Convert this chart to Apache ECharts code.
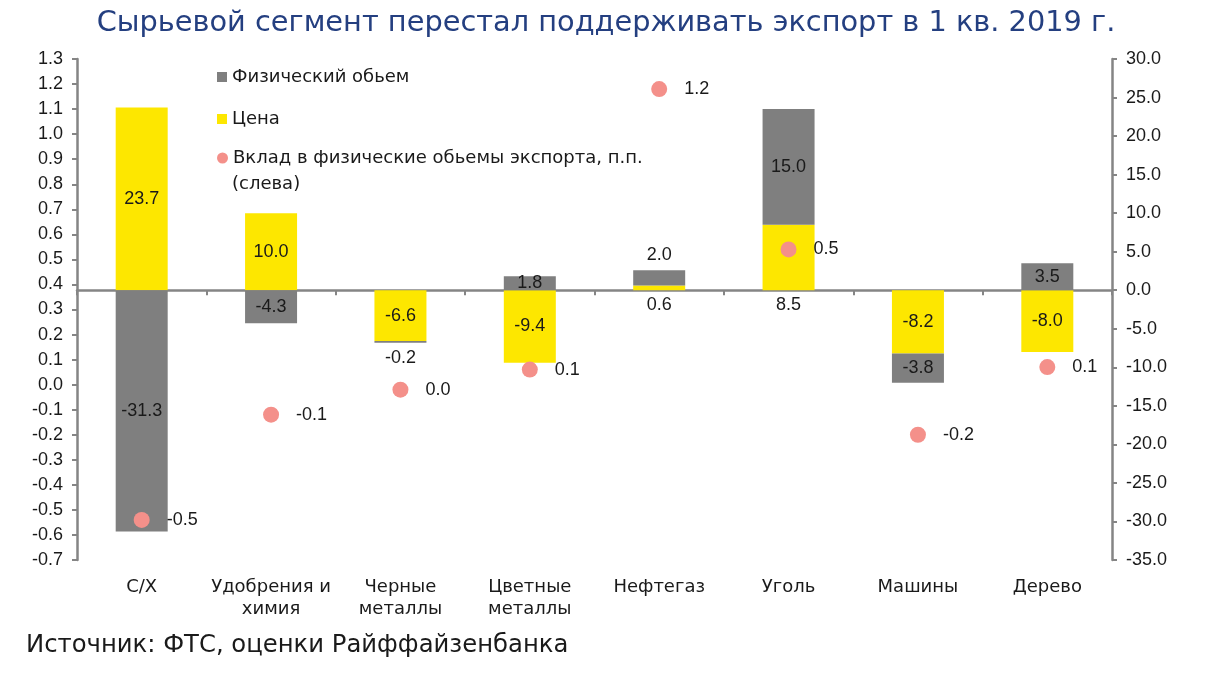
<!DOCTYPE html>
<html><head><meta charset="utf-8">
<script src="https://cdn.jsdelivr.net/npm/echarts@6/dist/echarts.min.js"></script>
<style>html,body{margin:0;padding:0;background:#fff}#c{width:1212px;height:683px}</style>
</head><body><div id="c"></div>
<script>
// ---- data ----
const categories = ['С/Х', 'Удобрения и\nхимия', 'Черные\nметаллы', 'Цветные\nметаллы', 'Нефтегаз', 'Уголь', 'Машины', 'Дерево'];
const price = [23.7, 10.0, -6.6, -9.4, 0.6, 8.5, -8.2, -8.0];          // Цена (right axis)
const volume = [-31.3, -4.3, -0.2, 1.8, 2.0, 15.0, -3.8, 3.5];        // Физический обьем (right axis)
const contribution = [-0.54, -0.12, -0.02, 0.06, 1.18, 0.54, -0.20, 0.07]; // Вклад, п.п. (left axis)
const nameVolume = 'Физический обьем';
const namePrice = 'Цена';
const nameContrib = 'Вклад в физические обьемы экспорта, п.п.';
const nameContribNote = '(слева)';
const titleText = 'Сырьевой сегмент перестал поддерживать экспорт в 1 кв. 2019 г.';
const sourceText = 'Источник: ФТС, оценки Райффайзенбанка';

// ---- styles ----
const priceLabelPos = ['inside', 'inside', 'inside', 'inside', 'bottom', 'bottom', 'inside', 'inside'];
const volumeLabelPos = ['inside', 'inside', 'bottom', 'inside', 'top', 'inside', 'inside', 'inside'];
const AX = '#858585';
const numFont = 'Liberation Sans, Arial, sans-serif';
const txtFont = 'DejaVu Sans, sans-serif';
const fmt1 = v => { let s = (Math.round(v * 10) / 10).toFixed(1); return s === '-0.0' ? '0.0' : s; };

const chart = echarts.init(document.getElementById('c'));
const barLabel = { show: true, color: '#1a1a1a', fontFamily: numFont, fontSize: 18, distance: 6, formatter: p => fmt1(p.value) };
const legendText = { fontFamily: txtFont, fontSize: 18, color: '#1a1a1a' };

chart.setOption({
  animation: false,
  title: [
    { text: titleText, left: 'center', top: 4, textStyle: { color: '#243F80', fontFamily: txtFont, fontSize: 28.8, fontWeight: 'normal' } },
    { text: sourceText, left: 21, top: 629, textStyle: { color: '#1a1a1a', fontFamily: txtFont, fontSize: 24.3, fontWeight: 'normal' } }
  ],
  legend: [
    { data: [nameVolume], left: 212, top: 63, itemWidth: 10, itemHeight: 10, icon: 'rect', textStyle: legendText },
    { data: [namePrice], left: 212, top: 105, itemWidth: 10, itemHeight: 10, icon: 'rect', textStyle: legendText },
    { data: [nameContrib], left: 212, top: 144, itemWidth: 11, itemHeight: 11, icon: 'circle', textStyle: legendText }
  ],
  graphic: [
    { type: 'text', left: 232, top: 175, style: { text: nameContribNote, fontFamily: txtFont, fontSize: 18, fill: '#1a1a1a' } }
  ],
  grid: { left: 77, right: 100, top: 59, bottom: 123 },
  xAxis: [
    { type: 'category', data: categories, position: 'bottom',
      axisLine: { onZero: true, onZeroAxisIndex: 1, lineStyle: { color: AX, width: 2.5 } },
      axisTick: { show: true, length: 5, lineStyle: { color: AX, width: 2 } },
      axisLabel: { show: false } },
    { type: 'category', data: categories, position: 'bottom',
      axisLine: { show: false }, axisTick: { show: false },
      axisLabel: { interval: 0, margin: 16, fontFamily: txtFont, fontSize: 18, color: '#1a1a1a', lineHeight: 22 } }
  ],
  yAxis: [
    { type: 'value', min: -0.7, max: 1.3, interval: 0.1, position: 'left',
      axisLine: { show: true, lineStyle: { color: AX, width: 2.5 } },
      axisTick: { show: true, length: 5, lineStyle: { color: AX, width: 2 } },
      splitLine: { show: false },
      axisLabel: { margin: 14, fontFamily: numFont, fontSize: 18, color: '#1a1a1a', formatter: fmt1 } },
    { type: 'value', min: -35, max: 30, interval: 5, position: 'right',
      axisLine: { show: true, lineStyle: { color: AX, width: 2.5 } },
      axisTick: { show: true, length: 5, lineStyle: { color: AX, width: 2 } },
      splitLine: { show: false },
      axisLabel: { margin: 14, fontFamily: numFont, fontSize: 18, color: '#1a1a1a', formatter: fmt1 } }
  ],
  series: [
    { name: namePrice, type: 'bar', stack: 's', xAxisIndex: 0, yAxisIndex: 1, barWidth: 52,
      itemStyle: { color: '#FDE700' },
      data: price.map((v, i) => ({ value: v, label: { position: priceLabelPos[i] } })),
      label: barLabel },
    { name: nameVolume, type: 'bar', stack: 's', xAxisIndex: 0, yAxisIndex: 1, barWidth: 52,
      itemStyle: { color: '#7F7F7F' },
      data: volume.map((v, i) => ({ value: v, label: { position: volumeLabelPos[i] } })),
      label: barLabel },
    { name: nameContrib, type: 'scatter', xAxisIndex: 0, yAxisIndex: 0, symbolSize: 16,
      itemStyle: { color: '#F4908A', opacity: 1 },
      data: contribution,
      label: { show: true, position: 'right', distance: 17, color: '#1a1a1a', fontFamily: numFont, fontSize: 18, formatter: p => fmt1(p.value) },
      z: 5 }
  ]
});
</script></body></html>
